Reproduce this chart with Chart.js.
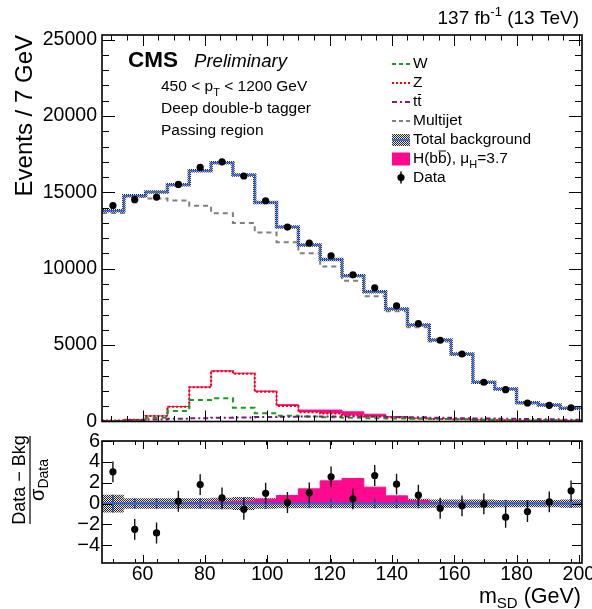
<!DOCTYPE html>
<html>
<head>
<meta charset="utf-8">
<title>CMS Preliminary - passing region</title>
<script src="https://cdn.jsdelivr.net/npm/chart.js@4.4.1/dist/chart.umd.min.js"></script>
<style>
  html, body { margin:0; padding:0; background:#ffffff; }
  #wrap { position:relative; width:592px; height:609px; overflow:hidden; }
  #wrap canvas { position:absolute; left:0; top:0; }
</style>
</head>
<body>
<div id="wrap">
  <canvas id="mainPad" width="592" height="609"></canvas>
  <canvas id="ratioPad" width="592" height="609"></canvas>
</div>
<script>
// ---------------- data ----------------
const binEdges   = [47,54,61,68,75,82,89,96,103,110,117,124,131,138,145,152,159,166,173,180,187,194,201];
const binCenters = [50.5,57.5,64.5,71.5,78.5,85.5,92.5,99.5,106.5,113.5,120.5,127.5,134.5,141.5,148.5,155.5,162.5,169.5,176.5,183.5,190.5,197.5];

const dataEvents = [14140,14520,14690,15520,16630,17000,16070,14450,12730,11680,10850,9600,8750,7570,6410,5320,4420,2570,2080,1210,1060,900];
const totalBkg   = [13790,14780,15020,15500,16420,16940,16130,14340,12730,11550,10600,9540,8490,7370,6320,5340,4420,2570,2130,1230,1080,870];
const multijet   = [13650,14700,14600,14470,14120,13640,12990,12370,11740,11020,10140,9210,8200,7220,6170,5230,4360,2520,2090,1200,1050,850];
const wJets      = [30,60,250,690,1410,1520,905,535,380,320,280,250,220,200,180,160,140,120,100,90,80,70];
const zJets      = [60,120,360,970,2240,3290,3130,1950,1015,600,520,400,330,260,200,170,140,110,90,70,60,50];
const ttbar      = [40,80,130,180,220,250,270,290,310,320,330,330,320,300,280,250,220,200,180,160,140,120];
const higgs      = [2,3,5,10,17,26,32,46,87,148,226,235,146,64,23,7,4,3,2,2,1,1];

const pullData   = [3.04,-2.47,-2.82,0.22,1.82,0.54,-0.55,0.99,0.10,1.03,2.56,0.45,2.69,1.86,0.80,-0.45,-0.22,-0.03,-1.31,-0.77,0.16,1.22];
const pullSignal = [0.02,0.03,0.04,0.05,0.10,0.16,0.22,0.42,0.77,1.41,2.18,2.40,1.57,0.74,0.29,0.10,0.05,0.04,0.03,0.03,0.02,0.02];
const bkgUncPull = [0.85,0.5,0.5,0.5,0.5,0.55,0.62,0.5,0.45,0.45,0.45,0.45,0.45,0.45,0.45,0.4,0.4,0.4,0.35,0.35,0.35,0.4];

const yTicksMain  = [0,5000,10000,15000,20000,25000];
const yTicksRatio = [-4,-2,0,2,4,6];
const xTickLabels = [60,80,100,120,140,160,180,200];

// ---------------- helpers ----------------
const FONT = "'Liberation Sans', Arial, Helvetica, sans-serif";
Chart.defaults.font.family = FONT;
Chart.defaults.color = '#000';

const PINK = '#ff0a8f';
const BLUE = '#2f63d4';

function stepPoints(values) {
  const pts = values.map((v, i) => ({ x: binEdges[i], y: v }));
  pts.push({ x: binEdges[binEdges.length - 1], y: values[values.length - 1] });
  return pts;
}
function makePattern(canvas) {
  const c = document.createElement('canvas');
  c.width = 2; c.height = 2;
  const g = c.getContext('2d');
  g.fillStyle = '#e6e6e6'; g.fillRect(0, 0, 2, 2);
  g.fillStyle = '#262626'; g.fillRect(0, 0, 1, 1); g.fillRect(1, 1, 1, 1);
  return canvas.getContext('2d').createPattern(c, 'repeat');
}
function font(size, style) { return (style ? style + ' ' : '') + size + 'px ' + FONT; }
function text(ctx, s, x, y, size, style, align) {
  ctx.font = font(size, style);
  ctx.textAlign = align || 'left';
  ctx.fillText(s, x, y);
  return ctx.measureText(s).width;
}
const lineBase = { stepped: true, pointRadius: 0, pointHoverRadius: 0, fill: false, tension: 0, borderCapStyle: 'butt' };

// ROOT-like frame with inward ticks
function framePlugin(cfg) {
  return {
    id: 'frame_' + cfg.name,
    afterDraw(chart) {
      const { ctx, chartArea: a } = chart;
      const xs = chart.scales.x, ys = chart.scales.y;
      ctx.save();
      ctx.strokeStyle = '#000';
      ctx.lineWidth = 1;
      ctx.beginPath();
      const vx = (list, len) => list.forEach(v => {
        const p = Math.round(xs.getPixelForValue(v)) + 0.5;
        if (p < a.left + 1 || p > a.right - 1) return;
        ctx.moveTo(p, a.bottom); ctx.lineTo(p, a.bottom - len);
        ctx.moveTo(p, a.top); ctx.lineTo(p, a.top + len);
      });
      const vy = (list, len) => list.forEach(v => {
        const p = Math.round(ys.getPixelForValue(v)) + 0.5;
        if (p < a.top - 0.5 || p > a.bottom + 0.5) return;
        ctx.moveTo(a.left, p); ctx.lineTo(a.left + len, p);
        ctx.moveTo(a.right, p); ctx.lineTo(a.right - len, p);
      });
      vx(cfg.xMajor, cfg.xMajLen); vx(cfg.xMinor, cfg.xMinLen);
      vy(cfg.yMajor, cfg.yMajLen); vy(cfg.yMinor, cfg.yMinLen);
      ctx.stroke();
      ctx.lineWidth = 1.6;
      ctx.strokeRect(a.left, a.top, a.right - a.left, a.bottom - a.top);
      ctx.restore();
    }
  };
}

const xMinorMain = []; for (let v = 50; v <= 200; v += 5) xMinorMain.push(v);
const yMinorMain = []; for (let v = 1000; v <= 25000; v += 1000) yMinorMain.push(v);

// ---------------- main pad ----------------
const mainCanvas = document.getElementById('mainPad');
const hatchMain = makePattern(mainCanvas);

const mainDeco = {
  id: 'mainDeco',
  afterDatasetsDraw(chart) {
    const { ctx } = chart; const xs = chart.scales.x, ys = chart.scales.y;
    ctx.save(); ctx.strokeStyle = '#000'; ctx.lineWidth = 1.5; ctx.beginPath();
    dataEvents.forEach((n, i) => {
      const px = xs.getPixelForValue(binCenters[i]); const e = Math.sqrt(n);
      ctx.moveTo(px, ys.getPixelForValue(n + e)); ctx.lineTo(px, ys.getPixelForValue(n - e));
    });
    ctx.stroke(); ctx.restore();
  },
  afterDraw(chart) {
    const { ctx } = chart;
    ctx.save();
    ctx.fillStyle = '#000';
    ctx.textBaseline = 'alphabetic';
    // header: 137 fb^-1 (13 TeV)
    ctx.font = font(19); const w1 = ctx.measureText('137 fb').width;
    ctx.font = font(13); const w2 = ctx.measureText('-1').width;
    ctx.font = font(19); const w3 = ctx.measureText(' (13 TeV)').width;
    let hx = 579 - (w1 + w2 + w3);
    text(ctx, '137 fb', hx, 24, 19); hx += w1;
    text(ctx, '-1', hx, 16, 13); hx += w2;
    text(ctx, ' (13 TeV)', hx, 24, 19);
    // CMS Preliminary
    text(ctx, 'CMS', 128, 67, 22.5, 'bold');
    text(ctx, 'Preliminary', 194, 67, 18.6, 'italic');
    // selection text
    let sx = 161;
    sx += text(ctx, '450 < p', sx, 91, 15.5);
    sx += text(ctx, 'T', sx, 96, 11);
    text(ctx, ' < 1200 GeV', sx, 91, 15.5);
    text(ctx, 'Deep double-b tagger', 161, 113, 15.5);
    text(ctx, 'Passing region', 161, 134.5, 15.5);

    // legend
    const lx0 = 392, lx1 = 410, tx = 413, fs = 15.5;
    const rows = [64, 83, 102, 121, 140, 159, 177.5];
    const seg = (y, color, dash) => {
      ctx.save(); ctx.strokeStyle = color; ctx.lineWidth = 2; ctx.setLineDash(dash);
      ctx.beginPath(); ctx.moveTo(lx0, y); ctx.lineTo(lx1, y); ctx.stroke(); ctx.restore();
    };
    ctx.textBaseline = 'middle';
    seg(rows[0], '#1a9c1a', [4, 3]);      text(ctx, 'W', tx, rows[0], fs);
    seg(rows[1], '#ee0000', [2, 2]);      text(ctx, 'Z', tx, rows[1], fs);
    seg(rows[2], '#7a1c7a', [5, 3, 2, 3]);
    const wt = text(ctx, 'tt', tx, rows[2], fs);
    ctx.font = font(fs); const wt1 = ctx.measureText('t').width;
    ctx.save(); ctx.strokeStyle = '#000'; ctx.lineWidth = 1; ctx.beginPath();
    ctx.moveTo(tx + wt1 + 0.5, rows[2] - 7.5); ctx.lineTo(tx + wt - 0.5, rows[2] - 7.5); ctx.stroke(); ctx.restore();
    seg(rows[3], '#7f7f7f', [4, 3]);      text(ctx, 'Multijet', tx, rows[3], fs);
    ctx.fillStyle = hatchMain; ctx.fillRect(lx0, rows[4] - 6, lx1 - lx0, 12);
    ctx.save(); ctx.strokeStyle = BLUE; ctx.lineWidth = 1.6; ctx.beginPath();
    ctx.moveTo(lx0, rows[4]); ctx.lineTo(lx1, rows[4]); ctx.stroke(); ctx.restore();
    ctx.fillStyle = '#000'; text(ctx, 'Total background', tx, rows[4], fs);
    ctx.fillStyle = PINK; ctx.fillRect(lx0, rows[5] - 6.5, lx1 - lx0, 13);
    ctx.fillStyle = '#000';
    let hx2 = tx;
    hx2 += text(ctx, 'H(b', hx2, rows[5], fs);
    const wb = text(ctx, 'b', hx2, rows[5], fs);
    ctx.save(); ctx.strokeStyle = '#000'; ctx.lineWidth = 1; ctx.beginPath();
    ctx.moveTo(hx2 + 0.5, rows[5] - 8); ctx.lineTo(hx2 + wb - 0.5, rows[5] - 8); ctx.stroke(); ctx.restore();
    hx2 += wb;
    hx2 += text(ctx, '), \u03bc', hx2, rows[5], fs);
    hx2 += text(ctx, 'H', hx2, rows[5] + 6, 11);
    text(ctx, '=3.7', hx2, rows[5], fs);
    // data marker
    ctx.save(); ctx.strokeStyle = '#000'; ctx.lineWidth = 1.5; ctx.beginPath();
    ctx.moveTo(401, rows[6] - 6); ctx.lineTo(401, rows[6] + 6); ctx.stroke();
    ctx.beginPath(); ctx.arc(401, rows[6], 3.6, 0, Math.PI * 2); ctx.fill(); ctx.restore();
    text(ctx, 'Data', tx, rows[6], fs);
    ctx.restore();
  }
};

new Chart(mainCanvas, {
  type: 'line',
  data: {
    datasets: [
      { label: 'Data', data: binCenters.map((x, i) => ({ x, y: dataEvents[i] })), showLine: false,
        pointRadius: 3.6, pointHoverRadius: 3.6, pointBackgroundColor: '#000', pointBorderColor: '#000', pointBorderWidth: 0, order: 0 },
      { ...lineBase, label: 'Total background', data: stepPoints(totalBkg), borderColor: BLUE, borderWidth: 1.5, order: 1 },
      { ...lineBase, label: 'Total background unc.', data: stepPoints(totalBkg), borderColor: hatchMain, borderWidth: 3.5, order: 2 },
      { ...lineBase, label: 'Multijet', data: stepPoints(multijet), borderColor: '#7f7f7f', borderWidth: 2, borderDash: [5, 4], order: 4 },
      { ...lineBase, label: 'tt', data: stepPoints(ttbar), borderColor: '#7a1c7a', borderWidth: 2, borderDash: [5, 3, 2, 3], order: 3 },
      { ...lineBase, label: 'W', data: stepPoints(wJets), borderColor: '#1a9c1a', borderWidth: 2, borderDash: [5, 4], order: 3 },
      { ...lineBase, label: 'Z', data: stepPoints(zJets), borderColor: '#ee0000', borderWidth: 2, borderDash: [2, 2], order: 3 },
      { ...lineBase, label: 'H(bb)', data: stepPoints(zJets.map((z, i) => z + higgs[i])), borderColor: PINK, borderWidth: 1,
        backgroundColor: PINK, fill: 6, order: 6 }
    ]
  },
  options: {
    responsive: false, animation: false, devicePixelRatio: 1,
    layout: { padding: { left: 0, top: 35, right: 10, bottom: 187.5 } },
    plugins: { legend: { display: false }, tooltip: { enabled: false } },
    events: [],
    scales: {
      x: { type: 'linear', min: 47, max: 201, display: false },
      y: {
        type: 'linear', min: 0, max: 25300,
        afterBuildTicks: s => { s.ticks = yTicksMain.map(v => ({ value: v })); },
        afterFit: s => { s.width = 102; s.paddingTop = 0; s.paddingBottom = 0; },
        grid: { display: false, drawTicks: false }, border: { display: false },
        ticks: { font: { size: 19.5 }, color: '#000', padding: 5, autoSkip: false, callback: v => String(v) },
        title: { display: true, text: 'Events / 7 GeV', align: 'end', color: '#000', font: { size: 24 }, padding: { top: 11, bottom: 0 } }
      }
    }
  },
  plugins: [mainDeco, framePlugin({ name: 'main', xMajor: xTickLabels, xMinor: xMinorMain, xMajLen: 11, xMinLen: 5.5,
                                     yMajor: yTicksMain, yMinor: yMinorMain, yMajLen: 13, yMinLen: 7 })]
});

// ---------------- ratio pad ----------------
const ratioCanvas = document.getElementById('ratioPad');
const hatchRatio = makePattern(ratioCanvas);

const ratioDeco = {
  id: 'ratioDeco',
  afterDatasetDraw(chart, args) {
    if (args.index !== 2) return;
    const { ctx } = chart; const xs = chart.scales.x, ys = chart.scales.y;
    ctx.save(); ctx.strokeStyle = '#22448f'; ctx.lineWidth = 1.5; ctx.beginPath();
    bkgUncPull.forEach((u, i) => {
      const px = xs.getPixelForValue(binCenters[i]);
      ctx.moveTo(px, ys.getPixelForValue(u)); ctx.lineTo(px, ys.getPixelForValue(-u));
    });
    ctx.stroke(); ctx.restore();
  },
  afterDatasetsDraw(chart) {
    const { ctx } = chart; const xs = chart.scales.x, ys = chart.scales.y;
    ctx.save(); ctx.strokeStyle = '#111'; ctx.lineWidth = 1.4; ctx.beginPath();
    pullData.forEach((p, i) => {
      const px = xs.getPixelForValue(binCenters[i]);
      ctx.moveTo(px, ys.getPixelForValue(p + 1)); ctx.lineTo(px, ys.getPixelForValue(p - 1));
    });
    ctx.stroke(); ctx.restore();
  },
  afterDraw(chart) {
    const { ctx } = chart;
    ctx.save();
    ctx.fillStyle = '#000';
    ctx.textBaseline = 'alphabetic';
    // x title: m_SD (GeV)
    ctx.font = font(21.5); const a1 = ctx.measureText('m').width;
    ctx.font = font(15); const a2 = ctx.measureText('SD').width;
    ctx.font = font(21.5); const a3 = ctx.measureText(' (GeV)').width;
    let x0 = 581 - (a1 + a2 + a3);
    text(ctx, 'm', x0, 603, 21.5); x0 += a1;
    text(ctx, 'SD', x0, 608, 15); x0 += a2;
    text(ctx, ' (GeV)', x0, 603, 21.5);
    // y title: (Data - Bkg) / sigma_Data
    ctx.translate(0, 480);
    ctx.rotate(-Math.PI / 2);
    text(ctx, 'Data \u2212 Bkg', 0, 25, 18, '', 'center');
    ctx.strokeStyle = '#000'; ctx.lineWidth = 1.2;
    ctx.beginPath(); ctx.moveTo(-44, 30); ctx.lineTo(44, 30); ctx.stroke();
    ctx.font = font(20); const s1 = ctx.measureText('\u03c3').width;
    ctx.font = font(14); const s2 = ctx.measureText('Data').width;
    let u = -(s1 + s2) / 2;
    text(ctx, '\u03c3', u, 44, 20); u += s1;
    text(ctx, 'Data', u, 48, 14);
    ctx.restore();
  }
};

const xMinorRatio = binCenters.slice();

new Chart(ratioCanvas, {
  type: 'line',
  data: {
    datasets: [
      { label: 'Pull', data: binCenters.map((x, i) => ({ x, y: pullData[i] })), showLine: false,
        pointRadius: 3.6, pointHoverRadius: 3.6, pointBackgroundColor: '#000', pointBorderColor: '#000', pointBorderWidth: 0, order: 0 },
      { label: 'zero', data: [{ x: 47, y: 0 }, { x: 201, y: 0 }], borderColor: BLUE, borderWidth: 2, pointRadius: 0, fill: false, order: 1 },
      { ...lineBase, label: 'Signal', data: stepPoints(pullSignal), borderColor: PINK, borderWidth: 1, backgroundColor: PINK, fill: 'origin', order: 4 },
      { ...lineBase, label: 'Bkg unc up', data: stepPoints(bkgUncPull), borderColor: 'rgba(0,0,0,0)', borderWidth: 1, order: 5 },
      { ...lineBase, label: 'Bkg unc down', data: stepPoints(bkgUncPull.map(v => -v)), borderColor: 'rgba(0,0,0,0)', borderWidth: 1,
        backgroundColor: hatchRatio, fill: 3, order: 5 }
    ]
  },
  options: {
    responsive: false, animation: false, devicePixelRatio: 1,
    layout: { padding: { left: 0, top: 441, right: 10, bottom: 0 } },
    plugins: { legend: { display: false }, tooltip: { enabled: false } },
    events: [],
    scales: {
      x: {
        type: 'linear', min: 47, max: 201,
        afterBuildTicks: s => { s.ticks = xTickLabels.map(v => ({ value: v })); },
        afterFit: s => { s.height = 46; s.paddingLeft = 0; s.paddingRight = 0; },
        grid: { display: false, drawTicks: false }, border: { display: false },
        ticks: { font: { size: 19.5 }, color: '#000', padding: 0, maxRotation: 0, autoSkip: false, callback: v => String(v) }
      },
      y: {
        type: 'linear', min: -5.7, max: 6,
        afterBuildTicks: s => { s.ticks = yTicksRatio.map(v => ({ value: v })); },
        afterFit: s => { s.width = 102; s.paddingTop = 0; s.paddingBottom = 0; },
        grid: { display: false, drawTicks: false }, border: { display: false },
        ticks: { font: { size: 20 }, color: '#000', padding: 2, autoSkip: false, callback: v => (v < 0 ? '\u2212' + Math.abs(v) : String(v)) }
      }
    }
  },
  plugins: [ratioDeco, framePlugin({ name: 'ratio', xMajor: xTickLabels, xMinor: xMinorRatio, xMajLen: 8, xMinLen: 4,
                                      yMajor: yTicksRatio, yMinor: [], yMajLen: 10, yMinLen: 5 })]
});
</script>
</body>
</html>
